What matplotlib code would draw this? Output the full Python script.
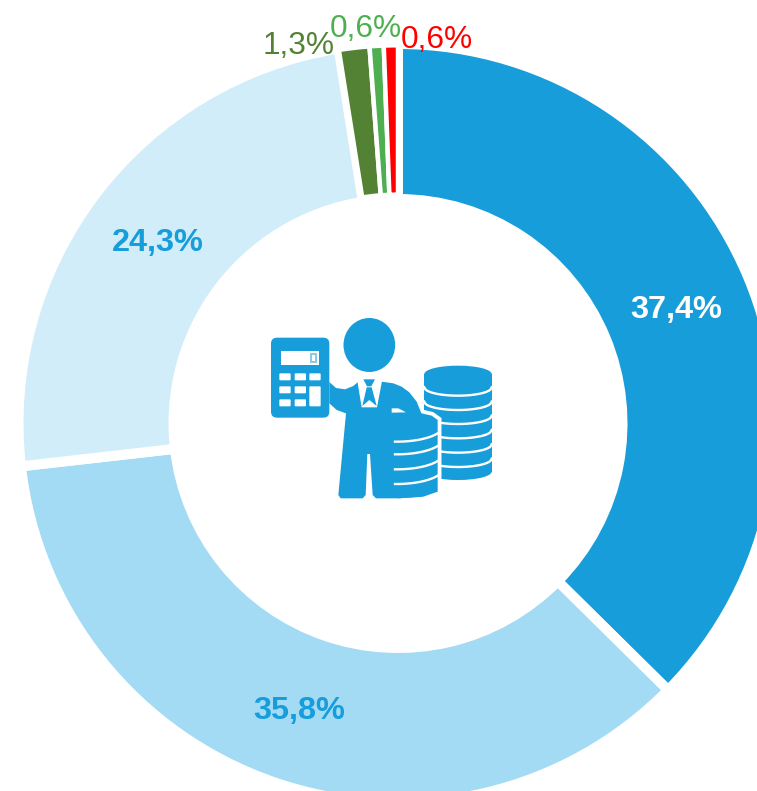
import numpy as np
import matplotlib
matplotlib.use('Agg')
import matplotlib.pyplot as plt
from matplotlib.patches import Ellipse, FancyBboxPatch, Polygon, Rectangle

W, H = 757, 791

values = [37.4, 35.8, 24.3, 1.3, 0.6, 0.6]
labels = ['37,4%', '35,8%', '24,3%', '1,3%', '0,6%', '0,6%']
colors = ['#179DD9', '#A3DBF5', '#D2EDFA', '#548235', '#4EAF50', '#FF0000']
label_colors = ['white', '#179DD9', '#179DD9', '#548235', '#4EAF50', '#FF0000']
label_bold = [True, True, True, False, False, False]
# label centres, in image pixels
label_x = [676, 299, 158, 299, 366, 437]
label_y = [310, 711, 243, 46, 29, 40]

ICON = '#179DD9'

plt.rcParams['font.family'] = ['Liberation Sans', 'DejaVu Sans']
plt.rcParams['text.kerning_factor'] = 6


def draw_stack(ax, cx, hw, top, bottom, eh, lines):
    """Back stack of coins, lines are the centre heights of the white rims."""
    ax.add_patch(Rectangle((cx - hw, top), 2 * hw, bottom - top, color=ICON, lw=0))
    ax.add_patch(Ellipse((cx, top), 2 * hw, 2 * eh, color=ICON, lw=0))
    ax.add_patch(Ellipse((cx, bottom), 2 * hw, 2 * eh, color=ICON, lw=0))
    xs = np.linspace(cx - hw, cx + hw, 60)
    for ly in lines:
        # same zorder as patches, so the halo and the man cover the rims
        ax.plot(xs, ly + eh * np.sqrt(1 - ((xs - cx) / hw) ** 2), color='white', lw=1.7, zorder=1)


def draw_icon(fig):
    """Accountant with calculator and coins, drawn in 3x pixel units."""
    ax = fig.add_axes([250 / W, 1 - 510 / H, 260 / W, 210 / H])
    ax.set_xlim(0, 780)
    ax.set_ylim(630, 0)
    ax.axis('off')

    # coins behind
    draw_stack(ax, 624, 101, 222, 515, 25, [262, 305, 347, 390, 433, 476])

    # white halo round the front coins
    front = [(435, 345), (515, 340), (545, 347), (563, 360), (563, 575),
             (520, 590), (445, 595)]
    ax.add_patch(Polygon(front, closed=True, fc='white', ec='white', lw=5.5))

    # calculator
    ax.add_patch(FancyBboxPatch((81, 131), 139, 204, boxstyle='round,pad=18,rounding_size=18',
                                fc=ICON, lw=0))
    ax.add_patch(Rectangle((93, 152), 115, 43, fc='white', lw=0))
    ax.add_patch(Rectangle((180, 158), 20, 32, fc='#8CCBE8', lw=0))
    ax.add_patch(Rectangle((186, 165), 8, 18, fc='white', lw=0))
    for kx in (88, 134, 178):
        for ky in (220, 259, 298):
            if kx == 178 and ky > 220:
                continue
            ax.add_patch(FancyBboxPatch((kx + 3, ky + 3), 28, 15,
                                        boxstyle='round,pad=3,rounding_size=3', fc='white', lw=0))
    ax.add_patch(FancyBboxPatch((181, 262), 28, 54, boxstyle='round,pad=3,rounding_size=3',
                                fc='white', lw=0))

    # head
    ax.add_patch(Ellipse((358, 135), 155, 162, color=ICON, lw=0))

    # suit and legs
    body = [(238, 246), (258, 264), (285, 268), (310, 258), (325, 245), (395, 245),
            (430, 250), (455, 260), (478, 277), (500, 305), (515, 342), (515, 590), (445, 595),
            (378, 595), (368, 585), (360, 462), (352, 462), (347, 585), (338, 595),
            (272, 595), (265, 585), (288, 340), (260, 330), (238, 310)]
    ax.add_patch(Polygon(body, closed=True, fc=ICON, lw=0))

    # shirt and tie
    ax.add_patch(Polygon([(322, 243), (396, 243), (381, 322), (335, 322)], closed=True,
                         fc='white', lw=0))
    ax.add_patch(Polygon([(340, 238), (375, 238), (364, 259), (351, 259)], closed=True,
                         fc=ICON, lw=0))
    ax.add_patch(Polygon([(350, 262), (365, 262), (380, 318), (358, 300), (337, 318)],
                         closed=True, fc=ICON, lw=0))
    # sleeve mark
    ax.add_patch(Polygon([(425, 325), (445, 325), (468, 337), (425, 338)], closed=True,
                         fc='white', lw=0))

    # front coins
    ax.add_patch(Polygon(front, closed=True, fc=ICON, lw=0))
    xs = np.linspace(435, 563, 40)
    for ly in (377, 415, 460, 504):
        ax.plot(xs, ly + 48 * np.sqrt(1 - ((xs - 440) / 140) ** 2), color='white', lw=1.7)


fig = plt.figure(figsize=(W / 100, H / 100), dpi=100)

ax = fig.add_axes([0, 0, 1, 1])
wedges, _ = ax.pie(values, colors=colors, startangle=90, counterclock=False,
                   center=(398, H - 423.5), radius=379.5,
                   wedgeprops=dict(width=155, edgecolor='white', linewidth=7.2))
# the three thin slices sit a little further out, with narrower gaps
for wedge in wedges[3:]:
    wedge.set_radius(378.2)
    wedge.set_width(149.4)
    wedge.set_linewidth(3.24)
ax.set_xlim(0, W)
ax.set_ylim(0, H)
ax.set_aspect('equal')
ax.axis('off')

# labels in image pixels
overlay = fig.add_axes([0, 0, 1, 1])
overlay.set_xlim(0, W)
overlay.set_ylim(H, 0)
overlay.axis('off')
for x, y, text, col, bold in zip(label_x, label_y, labels, label_colors, label_bold):
    overlay.text(x, y, text, color=col, ha='center', va='center',
                 fontsize=23.4 if bold else 22.8, fontweight='bold' if bold else 'normal')

draw_icon(fig)

fig.savefig('out.png', dpi=100)
